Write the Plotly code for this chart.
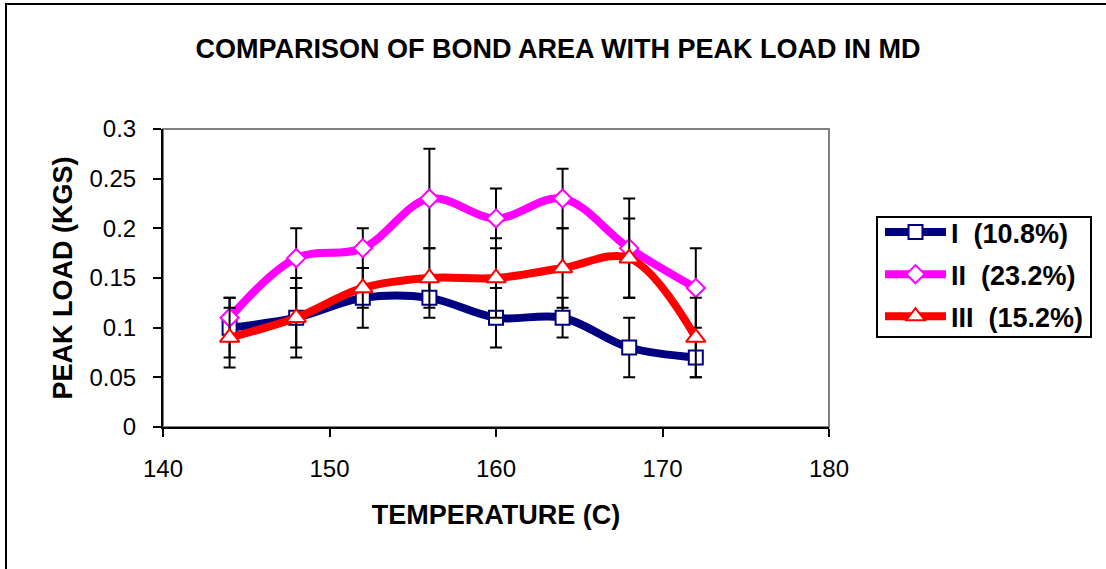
import plotly.graph_objects as go

# Temperatures (C) at which the peak load was measured
temperature = [144, 148, 152, 156, 160, 164, 168, 172]

# Peak load (KGS) per bond-area group, with error-bar half widths
load_I = [0.10, 0.11, 0.13, 0.13, 0.11, 0.11, 0.08, 0.07]
err_I = [0.03, 0.04, 0.03, 0.02, 0.03, 0.02, 0.03, 0.02]

load_II = [0.11, 0.17, 0.18, 0.23, 0.21, 0.23, 0.18, 0.14]
err_II = [0.02, 0.03, 0.02, 0.05, 0.03, 0.03, 0.05, 0.04]

load_III = [0.09, 0.11, 0.14, 0.15, 0.15, 0.16, 0.17, 0.09]
err_III = [0.03, 0.03, 0.02, 0.03, 0.04, 0.04, 0.04, 0.04]

series_names = ["I\u00a0 (10.8%)", "II\u00a0 (23.2%)", "III\u00a0 (15.2%)"]

FONT = "Arial, Liberation Sans, sans-serif"

W, H = 1106, 569
L, R, T, B = 163, 829, 129, 427  # plot area edges in px


def px_x(p):
    return (p - L) / (R - L)


def px_y(p):
    return (B - p) / (B - T)


fig = go.Figure()

styles = [
    (load_I, err_I, "#000080", "square", 14),
    (load_II, err_II, "#FF00FF", "diamond", 14),
    (load_III, err_III, "#FF0000", "triangle-up", 17),
]

for (vals, errs, color, symbol, msize), name in zip(styles, series_names):
    fig.add_trace(go.Scatter(
        x=temperature,
        y=vals,
        name=name,
        legendgroup=name,
        mode="lines+markers",
        line=dict(color=color, width=8, shape="spline", smoothing=1),
        marker=dict(symbol=symbol, size=msize, color="white",
                    line=dict(color=color, width=2)),
        error_y=dict(type="data", array=errs, symmetric=True,
                     color="black", thickness=2, width=6),
    ))

shapes = [
    # gray frame on the top and right of the plot area
    dict(type="rect", xref="paper", yref="paper", x0=0, x1=1, y0=0, y1=1,
         line=dict(color="#808080", width=2), layer="below"),
    # outer chart frame
    dict(type="rect", xref="paper", yref="paper",
         x0=px_x(6), x1=px_x(W + 50), y0=px_y(H + 50), y1=px_y(4),
         line=dict(color="black", width=2), layer="below"),
    # legend box
    dict(type="rect", xref="paper", yref="paper",
         x0=px_x(877), x1=px_x(1091), y0=px_y(337), y1=px_y(217),
         line=dict(color="black", width=2), fillcolor="white", layer="below"),
]

fig.update_layout(
    width=W, height=H,
    margin=dict(l=L, r=W - R, t=T, b=H - B),
    paper_bgcolor="white",
    plot_bgcolor="white",
    font=dict(family=FONT, color="black"),
    title=dict(
        text="<b>COMPARISON OF BOND AREA WITH PEAK LOAD IN MD</b>",
        font=dict(size=27, family=FONT, color="black"),
        xref="paper", x=px_x(558), xanchor="center",
        yref="container", y=1 - 49 / H, yanchor="middle",
    ),
    showlegend=True,
    legend=dict(
        x=px_x(880), xanchor="left",
        y=px_y(208), yanchor="top",
        bgcolor="rgba(0,0,0,0)", borderwidth=0,
        font=dict(size=27, family=FONT, color="black", weight="bold"),
        itemwidth=61, tracegroupgap=4,
    ),
    shapes=shapes,
)

fig.update_xaxes(
    range=[140, 180], dtick=10, tick0=140,
    showgrid=False, zeroline=False,
    showline=True, linecolor="black", linewidth=2,
    ticks="outside", ticklen=8, tickwidth=2, tickcolor="black",
    tickfont=dict(size=24, family=FONT, color="black"),
    ticklabelstandoff=11,
    title=dict(text="<b>TEMPERATURE (C)</b>", standoff=24,
               font=dict(size=27, family=FONT, color="black")),
)

fig.update_yaxes(
    range=[0, 0.3], dtick=0.05, tick0=0,
    showgrid=False, zeroline=False,
    showline=True, linecolor="black", linewidth=2,
    ticks="outside", ticklen=8, tickwidth=2, tickcolor="black",
    tickfont=dict(size=24, family=FONT, color="black"),
    ticklabelstandoff=12,
    title=dict(text="<b>PEAK LOAD (KGS)</b>", standoff=9,
               font=dict(size=27, family=FONT, color="black")),
)

fig.write_html("out.html")
